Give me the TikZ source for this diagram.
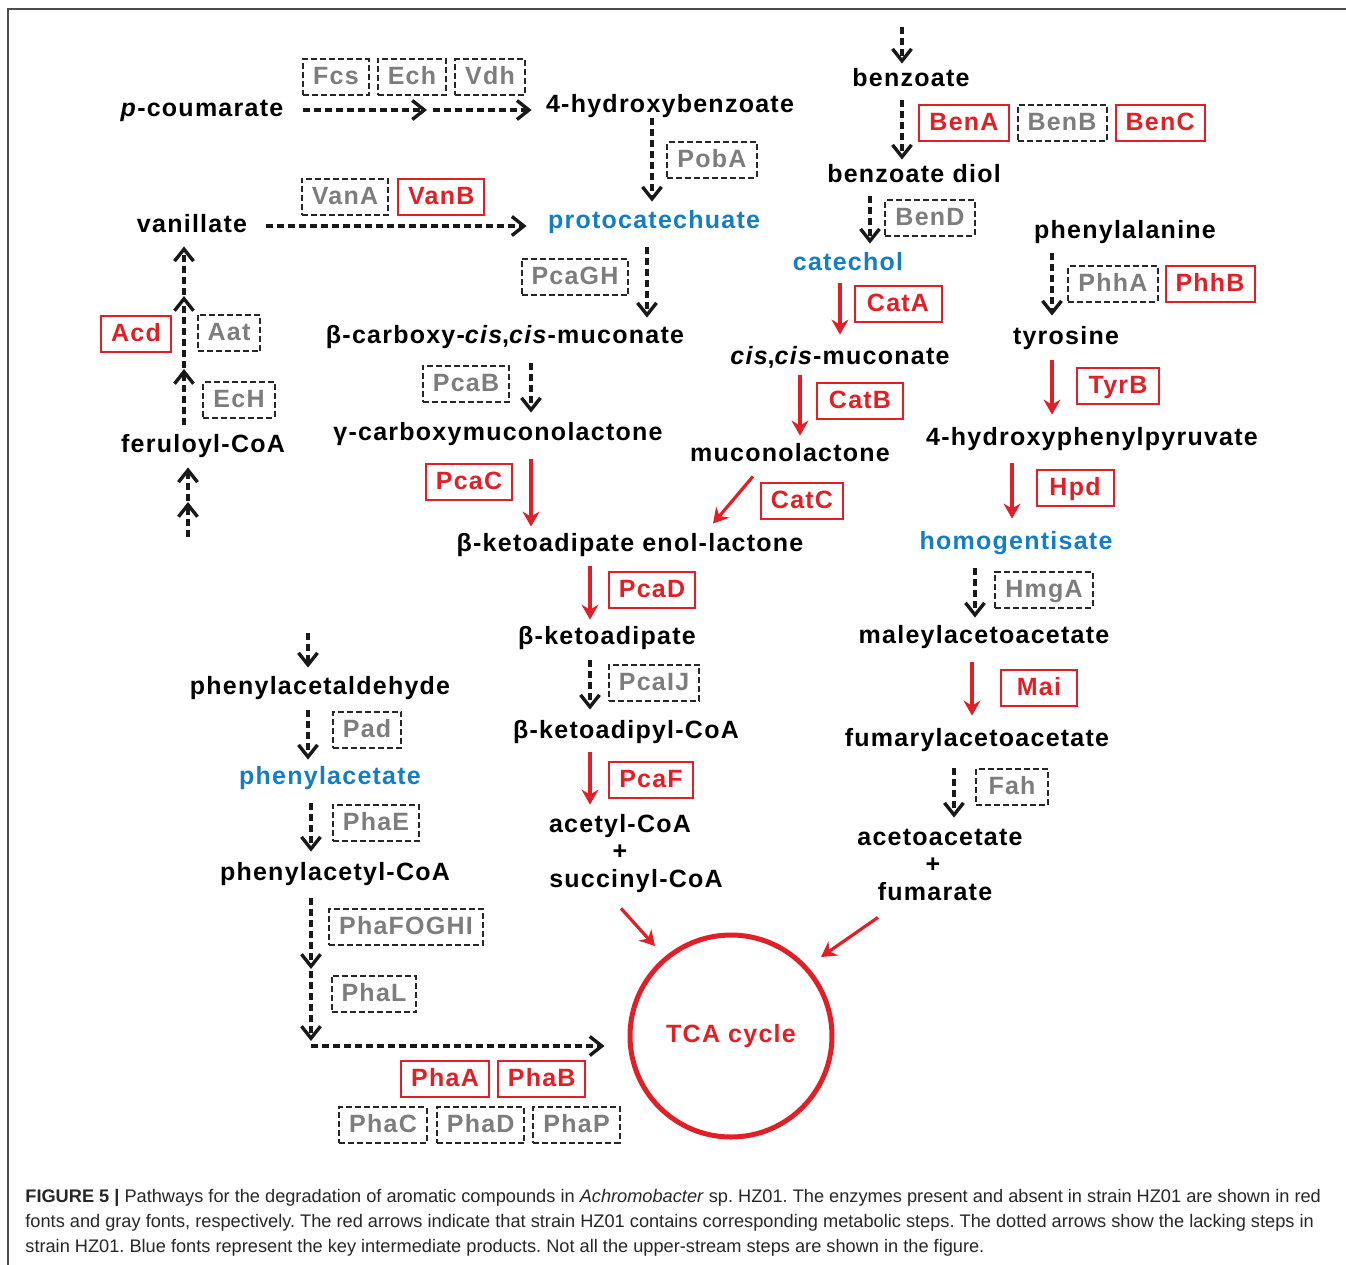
\documentclass[tikz,border=0pt]{standalone}
\usepackage{fontspec}
\setmainfont{Liberation Sans}
\newfontfamily\pathfont{Liberation Sans}[LetterSpace=5]
\usepackage{tikz}
\usetikzlibrary{positioning, calc, arrows.meta}
\definecolor{hzred}{RGB}{224,32,38}
\definecolor{keyblue}{RGB}{20,125,195}
\definecolor{enzgray}{RGB}{125,125,125}
\newcommand{\pathsize}{\fontsize{12.5}{14}\selectfont}
\frenchspacing

\begin{document}
\begin{tikzpicture}[x = .5pt, y = -.5pt,
  cmp/.style = {font = \pathfont\bfseries\pathsize, text height = 9pt, text depth = 2.5pt, inner sep = 0pt},
  key/.style = {cmp, text = keyblue},
  enz/.style = {font = \pathfont\bfseries\pathsize, minimum height = 18pt, inner xsep = 5pt, inner ysep = 0pt, text height = 9pt, text depth = 2pt, line width = 1pt},
  present/.style = {enz, draw = hzred, text = hzred},
  absent/.style = {enz, draw = black!85, text = enzgray, dash pattern = on 3pt off 1.5pt},
  found/.style = {draw = hzred, line width = 1.6pt, > = {Stealth[length = 7.5pt, width = 8.5pt, inset = 2.5pt]}, ->},
  missing/.style = {draw = black!90, line width = 1.7pt, dash pattern = on 3.5pt off 2pt, > = {Straight Barb[length = 6pt, width = 9.5pt]}, ->}]
\useasboundingbox (0,0) rectangle (1346,1265);
\draw[line width = 1pt, black!70] (1346,9) -- (8,9) -- (8,1265);

% compounds
\node[cmp] (pcou) at (202,110) {\textit{p}-coumarate};
\node[cmp] (hb) at (670,106) {4-hydroxybenzoate};
\node[cmp] (van) at (192,226) {vanillate};
\node[key] (pca) at (654,222) {protocatechuate};
\node[cmp] (bcm) at (505,337) {β-carboxy-\textit{cis},\textit{cis}-muconate};
\node[cmp] (gcm) at (498,434) {γ-carboxymuconolactone};
\node[cmp] (fcoa) at (203,446) {feruloyl-CoA};
\node[cmp] (enol) at (630,545) {β-ketoadipate enol-lactone};
\node[cmp] (bka) at (607,638) {β-ketoadipate};
\node[cmp] (bkcoa) at (626,732) {β-ketoadipyl-CoA};
\node[cmp] (acoa) at (620,826) {acetyl-CoA};
\node[cmp] (plus1) at (620,853) {+};
\node[cmp] (scoa) at (636,881) {succinyl-CoA};
\node[cmp] (phald) at (320,688) {phenylacetaldehyde};
\node[key] (pacet) at (330,778) {phenylacetate};
\node[cmp] (pacoa) at (335,874) {phenylacetyl-CoA};
\node[cmp] (benz) at (911,80) {benzoate};
\node[cmp] (bdiol) at (914,176) {benzoate diol};
\node[key] (cat) at (848,264) {catechol};
\node[cmp] (ccmuc) at (840,358) {\textit{cis},\textit{cis}-muconate};
\node[cmp] (mucl) at (790,455) {muconolactone};
\node[cmp] (phe) at (1125,232) {phenylalanine};
\node[cmp] (tyr) at (1066,338) {tyrosine};
\node[cmp] (hpp) at (1092,439) {4-hydroxyphenylpyruvate};
\node[key] (hga) at (1016,543) {homogentisate};
\node[cmp] (maa) at (984,637) {maleylacetoacetate};
\node[cmp] (faa) at (977,740) {fumarylacetoacetate};
\node[cmp] (aca) at (940,839) {acetoacetate};
\node[cmp] (plus2) at (933,866) {+};
\node[cmp] (fum) at (935,894) {fumarate};
\node[circle, draw = hzred, line width = 2.5pt, minimum size = 101pt, inner sep = 0pt, text = hzred, font = \pathfont\bfseries\pathsize] (tca) at (731,1036) {TCA cycle};

% enzymes
\node[absent] (fcs) at (336,77) {Fcs};
\node[absent, right = 3.5pt of fcs] (ech) {Ech};
\node[absent, right = 3.5pt of ech] (vdh) {Vdh};
\node[absent] (poba) at (712,160) {PobA};
\node[absent] (vana) at (345,197) {VanA};
\node[present, right = 4pt of vana] (vanb) {VanB};
\node[absent] (pcagh) at (575,277) {PcaGH};
\node[present, minimum width = 34.5pt] (acd) at (136,334) {Acd};
\node[absent] (aat) at (229,333) {Aat};
\node[absent] (echf) at (239,400) {EcH};
\node[absent] (pcab) at (466,384) {PcaB};
\node[present, minimum width = 41.5pt] (pcac) at (469,482) {PcaC};
\node[present] (bena) at (964,123) {BenA};
\node[absent, right = 3.5pt of bena] (benb) {BenB};
\node[present, right = 3.5pt of benb] (benc) {BenC};
\node[absent] (bend) at (930,218) {BenD};
\node[present, minimum width = 43.5pt] (cata) at (898,304) {CatA};
\node[absent] (phha) at (1113,284) {PhhA};
\node[present, right = 3pt of phha] (phhb) {PhhB};
\node[present, minimum width = 43pt] (catb) at (860,401) {CatB};
\node[present, minimum width = 41pt] (tyrb) at (1118,386) {TyrB};
\node[present, minimum width = 40pt] (catc) at (802,501) {CatC};
\node[present, minimum width = 38.5pt] (hpd) at (1075,488) {Hpd};
\node[present] (pcad) at (652,590) {PcaD};
\node[absent] (hmga) at (1044,590) {HmgA};
\node[absent] (pcaij) at (654,683) {PcaIJ};
\node[present, minimum width = 38pt] (mai) at (1039,688) {Mai};
\node[absent] (pad) at (367,730) {Pad};
\node[present] (pcaf) at (651,780) {PcaF};
\node[absent] (phae) at (376,823) {PhaE};
\node[absent, minimum width = 36pt] (fah) at (1012,787) {Fah};
\node[absent] (phafoghi) at (406,927) {PhaFOGHI};
\node[absent] (phal) at (374,994) {PhaL};
\node[present] (phaa) at (445,1079) {PhaA};
\node[present, right = 3.5pt of phaa] (phab) {PhaB};
\node[absent] (phac) at (383,1125) {PhaC};
\node[absent, right = 4pt of phac] (phad) {PhaD};
\node[absent, right = 3.5pt of phad] (phap) {PhaP};

% free ends
\coordinate (pm) at (427,110);
\coordinate (f0) at (188,537);
\coordinate (fm) at (188,502);
\coordinate (f1) at (184,369);
\coordinate (f2) at (184,296);
\coordinate (btop) at (902,27);
\coordinate (ptop) at (308,633);
\coordinate (q1) at (311,969);
\coordinate (q2) at (311,1046);

% protocatechuate branch
\draw[missing] ($(pcou.east)+(19,0)$) -- (pm);
\draw[missing, shorten >= 7pt] ($(pm)+(6,0)$) -- (pm -| hb.west);
\draw[missing, shorten <= 9.5pt, shorten >= 10.5pt] (van.east) -- (van.east -| pca.west);
\draw[missing] ($(hb.south)+(-18,0.5)$) -- ($(pca.north)+(-2,-8.5)$);
\draw[missing] ($(pca.south)+(-7,13.5)$) -- ($(bcm.north)+(142,-7.5)$);
\draw[missing] ($(bcm.south)+(26,14.5)$) -- ($(gcm.north)+(33,-9.5)$);
\draw[found] ($(gcm.south)+(33,13.5)$) -- ($(enol.north)+(-99,-6.5)$);
\draw[found] ($(enol.south)+(-40,9.5)$) -- ($(bka.north)+(-17,-6.5)$);
\draw[missing] ($(bka.south)+(-17,10.5)$) -- ($(bkcoa.north)+(-36,-10.5)$);
\draw[found] ($(bkcoa.south)+(-36,8.5)$) -- ($(acoa.north)+(-30,-9.5)$);
\draw[found] ($(scoa.south)+(-15,15.5)$) -- ($(tca)+(-76,-90)$);

% feruloyl-CoA
\draw[missing] (f0) -- (fm);
\draw[missing] ($(fm)+(0,-1)$) -- ($(fcoa.south)+(-15,9.5)$);
\draw[missing] ($(fcoa.north)+(-19,-9.5)$) -- (f1);
\draw[missing] ($(f1)+(0,-1)$) -- (f2);
\draw[missing] ($(f2)+(0,-1)$) -- ($(van.south)+(-8,8.5)$);

% catechol branch
\draw[missing] (btop) -- ($(benz.north)+(-9,-4.5)$);
\draw[missing] ($(benz.south)+(-9,8.5)$) -- ($(bdiol.north)+(-12,-4.5)$);
\draw[missing] ($(bdiol.south)+(-44,8.5)$) -- ($(cat.north)+(22,-8.5)$);
\draw[found] ($(cat.south)+(-8,7.5)$) -- ($(ccmuc.north)+(0,-11.5)$);
\draw[found] ($(ccmuc.south)+(-40,5.5)$) -- ($(mucl.north)+(10,-7.5)$);
\draw[found] ($(mucl.south)+(-37,9.5)$) -- ($(enol.north)+(83,-9.5)$);

% homogentisate branch
\draw[missing] ($(phe.south)+(-73,9.5)$) -- ($(tyr.north)+(-14,-10.5)$);
\draw[found] ($(tyr.south)+(-14,10.5)$) -- ($(hpp.north)+(-40,-12.5)$);
\draw[found] ($(hpp.south)+(-80,12.5)$) -- ($(hga.north)+(-4,-12.5)$);
\draw[missing] ($(hga.south)+(-41,13.5)$) -- ($(maa.north)+(-9,-7.5)$);
\draw[found] ($(maa.south)+(-12,13.5)$) -- ($(faa.north)+(-5,-12.5)$);
\draw[missing] ($(faa.south)+(-23,16.5)$) -- ($(aca.north)+(14,-9.5)$);
\draw[found] ($(fum.south)+(-57,11.5)$) -- ($(tca)+(90,-79)$);

% phenylacetate branch
\draw[missing] (ptop) -- ($(phald.north)+(-12,-8.5)$);
\draw[missing] ($(phald.south)+(-12,10.5)$) -- ($(pacet.north)+(-22,-6.5)$);
\draw[missing] ($(pacet.south)+(-19,13.5)$) -- ($(pacoa.north)+(-24,-10.5)$);
\draw[missing] ($(pacoa.south)+(-24,12.5)$) -- (q1);
\draw[missing] ($(q1)+(0,2)$) -- ($(q2)+(0,-5)$);
\draw[missing, shorten >= 11.5pt] (q2) -- (q2 -| tca.west);

% caption
\node[anchor = base west, align = left, inner sep = 0pt, text = black!85, font = \fontsize{9.1}{12.5}\selectfont] (cap) at (25,1252) {\textbf{FIGURE 5 |} Pathways for the degradation of aromatic compounds in \textit{Achromobacter} sp. HZ01. The enzymes present and absent in strain HZ01 are shown in red\\fonts and gray fonts, respectively. The red arrows indicate that strain HZ01 contains corresponding metabolic steps. The dotted arrows show the lacking steps in\\strain HZ01. Blue fonts represent the key intermediate products. Not all the upper-stream steps are shown in the figure.};
\end{tikzpicture}
\end{document}
